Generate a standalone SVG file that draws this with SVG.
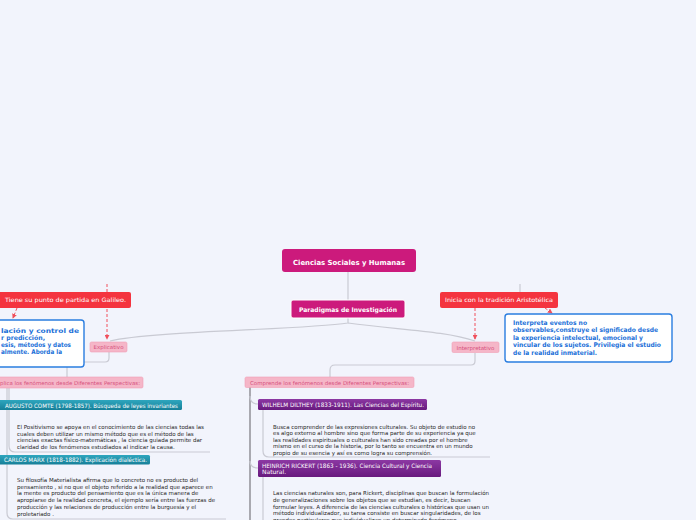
<svg xmlns="http://www.w3.org/2000/svg" width="696" height="520" viewBox="0 0 696 520">
<defs>
<style>
.t{font-family:"DejaVu Sans",Verdana,sans-serif}
.w{fill:#fff;font-weight:bold}
.lab{fill:#fff;font-size:6px}
.pk{fill:#d6507c;font-size:5.3px}
.par{fill:#262626;font-size:5.5px}
.blue{fill:#1a6fd8;font-weight:bold;font-size:6.4px}
.con{fill:none;stroke:#c9cad3;stroke-width:1.2}
.dash{fill:none;stroke:#f0505c;stroke-width:1;stroke-dasharray:3,2}
.pkbox{fill:#f5b6c8;stroke:#f0a0b6;stroke-width:0.6}
</style>
<linearGradient id="teal" x1="0" y1="0" x2="0" y2="1"><stop offset="0" stop-color="#2ea6be"/><stop offset="1" stop-color="#167f98"/></linearGradient>
<linearGradient id="purp" x1="0" y1="0" x2="0" y2="1"><stop offset="0" stop-color="#8c38a3"/><stop offset="1" stop-color="#681a7e"/></linearGradient>
<marker id="ar" viewBox="0 0 6 6" refX="5" refY="3" markerWidth="5" markerHeight="5" orient="auto"><path d="M0,0 L6,3 L0,6 z" fill="#f0505c"/></marker>
</defs>
<rect width="696" height="520" fill="#f2f4fc"/>

<g id="connectors">
<path class="con" d="M348,272 V300"/>
<path class="con" d="M348,318 V323 C300,330 150,331 110,341"/>
<path class="con" d="M348,323 C400,330 445,331 475,341"/>
<path class="con" d="M109,352 V358 Q109,362 105,362 H72 Q67,362 67,367 V377"/>
<path class="con" d="M475,353 V361 Q475,365 471,365 H335 Q330,365 330,370 V377"/>
<path class="con" d="M9,388 V446 Q9,452 15,452 H210"/>
<path class="con" d="M7,388 V513 Q7,519 13,519 H226"/>
<path fill="none" stroke="#a9a9b0" stroke-width="2" d="M250,387 V520"/>
<path class="con" d="M250,396 Q250,404 258,404"/>
<path class="con" d="M250,461 Q250,468 258,468"/>
<path class="con" d="M263,410 V451 Q263,457 269,457 H490"/>
<path class="con" d="M263,477 V520"/>
<path class="con" d="M520,284 V292"/>
<path class="dash" d="M107,284 V339" marker-end="url(#ar)"/>
<path class="dash" d="M17,308 L13,318" marker-end="url(#ar)"/>
<path class="dash" d="M475,308 V339" marker-end="url(#ar)"/>
<path class="dash" d="M545,308 L552,313" marker-end="url(#ar)"/>
</g>

<g id="root">
<rect x="282" y="249" width="134" height="23" rx="3" fill="#cc1a7c"/>
<text class="t w" x="349" y="264.5" font-size="7" text-anchor="middle" textLength="112" lengthAdjust="spacingAndGlyphs">Ciencias Sociales y Humanas</text>
</g>

<g id="paradigmas">
<rect x="291" y="300" width="114" height="18" rx="2" fill="#cc1a7c" stroke="#ffffff" stroke-width="1"/>
<text class="t w" x="348" y="311.5" font-size="6.3" text-anchor="middle" textLength="98" lengthAdjust="spacingAndGlyphs">Paradigmas de Investigación</text>
</g>

<g id="galileo">
<rect x="-3" y="292" width="134" height="16" rx="2" fill="#f4343f"/>
<text class="t lab" x="5" y="302.3" textLength="121" lengthAdjust="spacingAndGlyphs">Tiene su punto de partida en Galileo.</text>
</g>

<g id="aristoteles">
<rect x="440" y="292" width="118" height="16" rx="2" fill="#f4343f"/>
<text class="t lab" x="445" y="302.3" textLength="108" lengthAdjust="spacingAndGlyphs">Inicia con la tradición Aristotélica</text>
</g>

<g id="nota-izq">
<rect x="-10" y="320" width="94" height="47" rx="3" fill="#ffffff" stroke="#2a7de0" stroke-width="1.4"/>
<text class="t blue" x="1" y="332.5" textLength="78" lengthAdjust="spacingAndGlyphs">lación y control de</text>
<text class="t blue" x="1" y="339.5" textLength="44" lengthAdjust="spacingAndGlyphs">r predicción,</text>
<text class="t blue" x="1" y="346.5" textLength="70" lengthAdjust="spacingAndGlyphs">esis, métodos y datos</text>
<text class="t blue" x="1" y="353.5" textLength="61" lengthAdjust="spacingAndGlyphs">almente. Aborda la</text>
</g>

<g id="nota-der">
<rect x="505" y="314" width="167" height="48" rx="3" fill="#ffffff" stroke="#2a7de0" stroke-width="1.4"/>
<text class="t blue" x="513" y="324.5" textLength="74" lengthAdjust="spacingAndGlyphs">Interpreta eventos no</text>
<text class="t blue" x="513" y="332" textLength="145" lengthAdjust="spacingAndGlyphs">observables,construye el significado desde</text>
<text class="t blue" x="513" y="339.5" textLength="130" lengthAdjust="spacingAndGlyphs">la experiencia intelectual, emocional y</text>
<text class="t blue" x="513" y="347" textLength="148" lengthAdjust="spacingAndGlyphs">vincular de los sujetos.  Privilegia el estudio</text>
<text class="t blue" x="513" y="354.5" textLength="84" lengthAdjust="spacingAndGlyphs">de la realidad inmaterial.</text>
</g>

<g id="explicativo">
<rect class="pkbox" x="90" y="342" width="37" height="10" rx="1.5"/>
<text class="t pk" x="108.5" y="349.3" text-anchor="middle" textLength="30" lengthAdjust="spacingAndGlyphs">Explicativo</text>
</g>

<g id="interpretativo">
<rect class="pkbox" x="452" y="342" width="47" height="10.5" rx="1.5"/>
<text class="t pk" x="475.5" y="349.5" text-anchor="middle" textLength="38" lengthAdjust="spacingAndGlyphs">Interpretativo</text>
</g>

<g id="explica">
<rect class="pkbox" x="-3" y="377" width="146" height="11" rx="1.5"/>
<text class="t pk" x="0" y="384.8" textLength="140" lengthAdjust="spacingAndGlyphs">plica los fenómenos desde Diferentes Perspectivas:</text>
</g>

<g id="comprende">
<rect class="pkbox" x="245" y="377" width="169" height="10.5" rx="1.5"/>
<text class="t pk" x="250" y="384.8" textLength="159" lengthAdjust="spacingAndGlyphs">Comprende los fenómenos desde Diferentes Perspectivas:</text>
</g>

<g id="comte">
<rect x="-3" y="400" width="185" height="10" rx="1.5" fill="url(#teal)"/>
<text class="t lab" x="5" y="407.5" font-size="5.5" textLength="173" lengthAdjust="spacingAndGlyphs">AUGUSTO COMTE (1798-1857). Búsqueda de leyes invariantes</text>
</g>
<g id="comte-texto">
<text class="t par" x="17" y="429">El Positivismo se apoya en el conocimiento de las ciencias todas las</text>
<text class="t par" x="17" y="435.8">cuales deben utilizar un mismo método que es el método de las</text>
<text class="t par" x="17" y="442.3">ciencias exactas físico-matemáticas , la ciencia guiada permite dar</text>
<text class="t par" x="17" y="448.5">claridad de los fenómenos estudiados al indicar la causa.</text>
</g>

<g id="marx">
<rect x="-3" y="455" width="153" height="9.5" rx="1.5" fill="url(#teal)"/>
<text class="t lab" x="4" y="462.2" font-size="5.5" textLength="143" lengthAdjust="spacingAndGlyphs">CARLOS MARX (1818-1882). Explicación dialéctica.</text>
</g>
<g id="marx-texto">
<text class="t par" x="17" y="482">Su filosofía Materialista  afirma que lo concreto no es producto del</text>
<text class="t par" x="17" y="488.7">pensamiento , si no que el objeto referido a la realidad que aparece en</text>
<text class="t par" x="17" y="495.3">la mente es producto del pensamiento que es la única manera de</text>
<text class="t par" x="17" y="502">apropiarse de la realidad concreta, el ejemplo sería entre las fuerzas de</text>
<text class="t par" x="17" y="508.7">producción y las relaciones de producción entre la burguesía y el</text>
<text class="t par" x="17" y="515.5">proletariado .</text>
</g>

<g id="dilthey">
<rect x="258" y="399" width="169" height="11" rx="1.5" fill="url(#purp)"/>
<text class="t lab" x="262" y="407" font-size="5.5" textLength="162" lengthAdjust="spacingAndGlyphs">WILHELM DILTHEY (1833-1911). Las Ciencias del Espíritu.</text>
</g>
<g id="dilthey-texto">
<text class="t par" x="273" y="428.7">Busca comprender de las expresiones culturales. Su objeto de estudio no</text>
<text class="t par" x="273" y="435.3">es algo externo al hombre sino que forma parte de su experiencia ya que</text>
<text class="t par" x="273" y="442">las realidades espirituales o culturales han sido creadas por el hombre</text>
<text class="t par" x="273" y="448.3">mismo en el curso de la historia, por lo tanto se encuentra en un mundo</text>
<text class="t par" x="273" y="454.7">propio de su esencia y así es como logra su comprensión.</text>
</g>

<g id="rickert">
<rect x="258" y="460" width="183" height="17" rx="1.5" fill="url(#purp)"/>
<text class="t lab" x="262" y="467.5" font-size="5.5" textLength="170" lengthAdjust="spacingAndGlyphs">HEINRICH RICKERT (1863 - 1936). Ciencia Cultural y Ciencia</text>
<text class="t lab" x="262" y="474" font-size="5.5">Natural.</text>
</g>
<g id="rickert-texto">
<text class="t par" x="273" y="495.3">Las ciencias naturales son, para Rickert, disciplinas que buscan la formulación</text>
<text class="t par" x="273" y="502">de generalizaciones sobre los objetos que se estudian, es decir, buscan</text>
<text class="t par" x="273" y="508.7">formular leyes. A diferencia de las ciencias culturales o históricas que usan un</text>
<text class="t par" x="273" y="515.3">método individualizador, su tarea consiste en buscar singularidades, de los</text>
<text class="t par" x="273" y="522">grandes particulares que individualizan un determinado fenómeno.</text>
</g>
</svg>
